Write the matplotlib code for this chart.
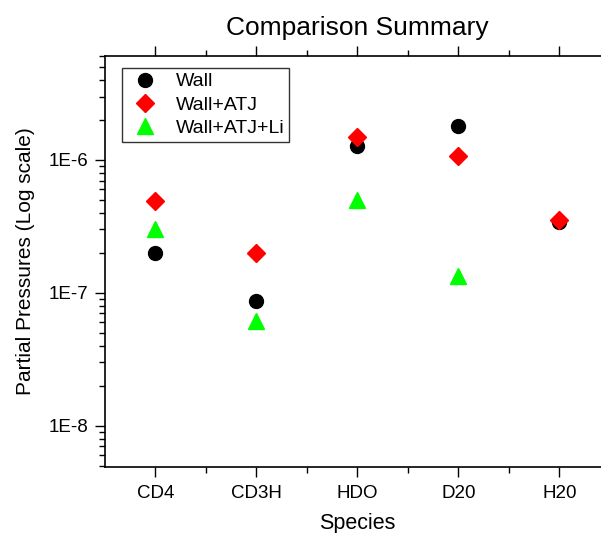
import numpy as np
import matplotlib.pyplot as plt
from matplotlib.ticker import LogLocator, FixedLocator, FuncFormatter

plt.rcParams['font.family'] = ['Liberation Sans', 'DejaVu Sans']

species = ['CD4', 'CD3H', 'HDO', 'D20', 'H20']
wall = [2.0e-7, 8.7e-8, 1.28e-6, 1.81e-6, 3.4e-7]
wall_atj = [4.9e-7, 2.0e-7, 1.5e-6, 1.08e-6, 3.55e-7]
wall_atj_li = [3.0e-7, 6.1e-8, 5.0e-7, 1.35e-7, np.nan]


def log_label(v, pos):
    return f'1E{int(round(np.log10(v)))}'


fig = plt.figure(figsize=(6.01, 5.33), dpi=100)
ax = fig.add_axes([0.1747, 0.1238, 0.840, 0.7711])

x = np.arange(len(species))
ax.plot(x, wall, 'o', color='black', markersize=10, label='Wall', linestyle='none')
ax.plot(x, wall_atj, 'D', color='red', markersize=9, label='Wall+ATJ', linestyle='none')
ax.plot(x, wall_atj_li, '^', color='#00ff00', markersize=11, label='Wall+ATJ+Li', linestyle='none')

ax.set_yscale('log')
ax.set_ylim(4.9e-9, 6.05e-6)
ax.set_xlim(-0.5, 4.5)

ax.set_xticks(x)
ax.set_xticklabels(species)
ax.xaxis.set_minor_locator(FixedLocator(x[:-1] + 0.5))
ax.yaxis.set_major_locator(LogLocator(base=10))
ax.yaxis.set_minor_locator(LogLocator(base=10, subs=np.arange(2, 10)))
ax.yaxis.set_major_formatter(FuncFormatter(log_label))

ax.tick_params(which='major', direction='out', length=7, width=1, labelsize=13.5, top=True, right=True)
ax.tick_params(which='minor', direction='out', length=4, width=1, top=True, right=True)
ax.tick_params(axis='x', which='major', pad=6)
ax.tick_params(axis='y', which='major', pad=5)
for s in ax.spines.values():
    s.set_linewidth(1.2)

ax.set_title('Comparison Summary', fontsize=19, pad=15)
ax.set_xlabel('Species', fontsize=15.5, labelpad=8)
ax.set_ylabel('Partial Pressures (Log scale)', fontsize=15, labelpad=10)

leg = ax.legend(loc='upper left', bbox_to_anchor=(0.034, 0.971), borderaxespad=0,
                fontsize=14, fancybox=False, frameon=True, handletextpad=0.7,
                labelspacing=0.3, borderpad=0.25, handlelength=1.8)
leg.get_frame().set_edgecolor('black')
leg.get_frame().set_linewidth(1)

fig.savefig('out.png', dpi=100)
